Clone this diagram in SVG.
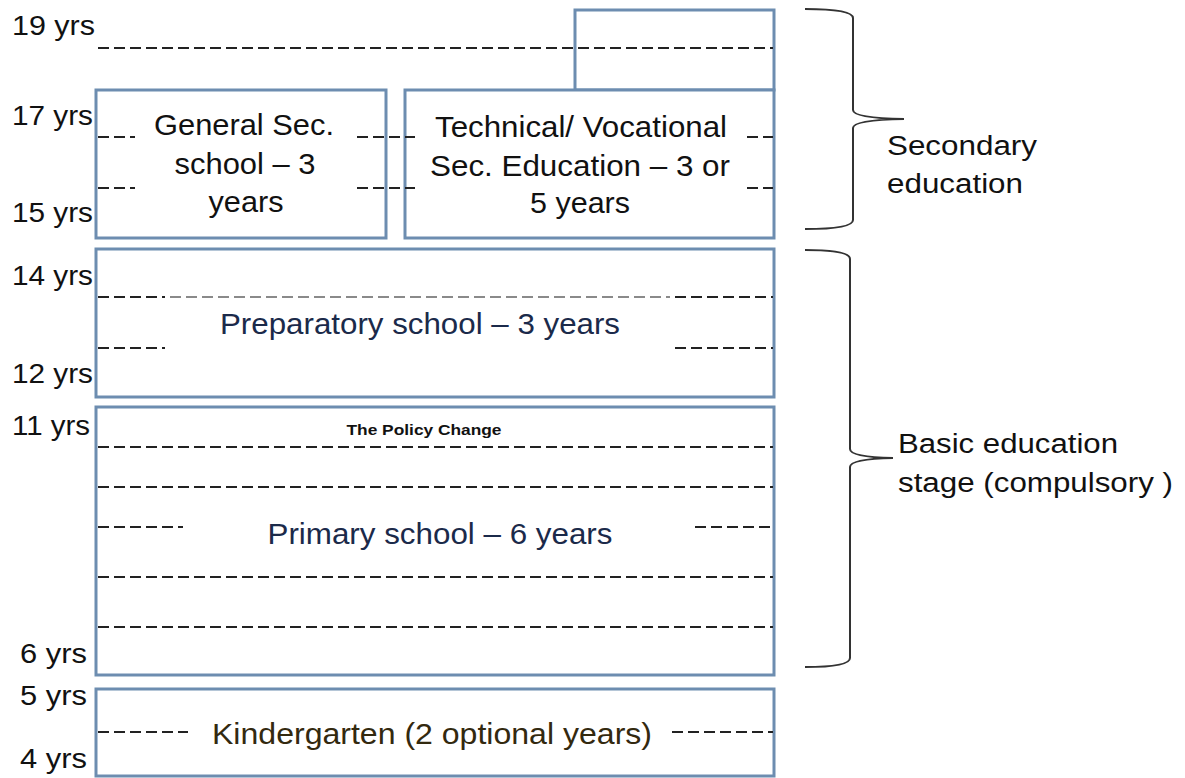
<svg xmlns="http://www.w3.org/2000/svg" width="1185" height="778" viewBox="0 0 1185 778">
  <style>
    .box { fill: #ffffff; stroke: #6d8db0; stroke-width: 3; }
    .dash { stroke: #222222; stroke-width: 2.2; stroke-dasharray: 11 5; fill: none; }
    .dash-light { stroke: #8a8a8a; stroke-width: 2; stroke-dasharray: 11 5; fill: none; }
    .brace { fill: none; stroke: #333333; stroke-width: 2; }
    .age { font-family: "Liberation Sans", Arial, sans-serif; font-size: 27px; fill: #111111; }
    .label { font-family: "Liberation Sans", Arial, sans-serif; font-size: 29px; fill: #111111; text-anchor: middle; }
    .navy { fill: #1b2a4a; }
    .olive { fill: #33290f; }
    .side { font-family: "Liberation Sans", Arial, sans-serif; font-size: 27px; fill: #111111; }
    .note { font-family: "Liberation Sans", Arial, sans-serif; font-size: 15px; font-weight: bold; fill: #111111; text-anchor: middle; }
  </style>

  <rect width="1185" height="778" fill="#ffffff"/>

  <!-- age axis -->
  <g id="ages">
    <text class="age" x="12" y="35" textLength="83" lengthAdjust="spacingAndGlyphs">19 yrs</text>
    <text class="age" x="12" y="125" textLength="81" lengthAdjust="spacingAndGlyphs">17 yrs</text>
    <text class="age" x="12" y="222" textLength="81" lengthAdjust="spacingAndGlyphs">15 yrs</text>
    <text class="age" x="12" y="285" textLength="81" lengthAdjust="spacingAndGlyphs">14 yrs</text>
    <text class="age" x="12" y="383" textLength="81" lengthAdjust="spacingAndGlyphs">12 yrs</text>
    <text class="age" x="12" y="435" textLength="78" lengthAdjust="spacingAndGlyphs">11 yrs</text>
    <text class="age" x="20" y="663" textLength="67" lengthAdjust="spacingAndGlyphs">6 yrs</text>
    <text class="age" x="20" y="705" textLength="67" lengthAdjust="spacingAndGlyphs">5 yrs</text>
    <text class="age" x="20" y="768" textLength="67" lengthAdjust="spacingAndGlyphs">4 yrs</text>
  </g>

  <!-- upper vocational years (17-19) -->
  <g id="upper-vocational">
    <rect class="box" x="575" y="10" width="199" height="80"/>
  </g>

  <g id="general-secondary">
    <rect class="box" x="96" y="90" width="290" height="148"/>
    <text class="label" x="244" y="135" textLength="180" lengthAdjust="spacingAndGlyphs">General Sec.</text>
    <text class="label" x="245" y="174" textLength="141" lengthAdjust="spacingAndGlyphs">school – 3</text>
    <text class="label" x="246" y="212" textLength="75" lengthAdjust="spacingAndGlyphs">years</text>
  </g>

  <g id="technical-secondary">
    <rect class="box" x="405" y="90" width="369" height="148"/>
    <text class="label" x="581" y="137" textLength="292" lengthAdjust="spacingAndGlyphs">Technical/ Vocational</text>
    <text class="label" x="580" y="176" textLength="300" lengthAdjust="spacingAndGlyphs">Sec. Education – 3 or</text>
    <text class="label" x="580" y="213" textLength="100" lengthAdjust="spacingAndGlyphs">5 years</text>
  </g>

  <g id="preparatory">
    <rect class="box" x="96" y="249" width="678" height="148"/>
    <text class="label navy" x="420" y="334" textLength="400" lengthAdjust="spacingAndGlyphs">Preparatory school – 3 years</text>
  </g>

  <g id="primary">
    <rect class="box" x="96" y="407" width="678" height="268"/>
    <text class="note" x="424" y="435" textLength="155" lengthAdjust="spacingAndGlyphs">The Policy Change</text>
    <text class="label navy" x="440" y="544" textLength="345" lengthAdjust="spacingAndGlyphs">Primary school – 6 years</text>
  </g>

  <g id="kindergarten">
    <rect class="box" x="96" y="689" width="678" height="87"/>
    <text class="label olive" x="432" y="744" textLength="440" lengthAdjust="spacingAndGlyphs">Kindergarten  (2 optional years)</text>
  </g>

  <!-- year divisions -->
  <g id="connectors">
    <line class="dash" x1="98" y1="48" x2="773" y2="48"/>

    <line class="dash" x1="98" y1="137" x2="135" y2="137"/>
    <line class="dash" x1="357" y1="137" x2="415" y2="137"/>
    <line class="dash" x1="747" y1="137" x2="773" y2="137"/>
    <line class="dash" x1="98" y1="188" x2="135" y2="188"/>
    <line class="dash" x1="357" y1="188" x2="415" y2="188"/>
    <line class="dash" x1="747" y1="188" x2="773" y2="188"/>

    <line class="dash" x1="98" y1="297" x2="165" y2="297"/>
    <line class="dash-light" x1="170" y1="297" x2="670" y2="297"/>
    <line class="dash" x1="675" y1="297" x2="773" y2="297"/>
    <line class="dash" x1="98" y1="348" x2="165" y2="348"/>
    <line class="dash" x1="675" y1="348" x2="773" y2="348"/>

    <line class="dash" x1="98" y1="447" x2="773" y2="447"/>
    <line class="dash" x1="98" y1="487" x2="773" y2="487"/>
    <line class="dash" x1="98" y1="527" x2="183" y2="527"/>
    <line class="dash" x1="695" y1="527" x2="773" y2="527"/>
    <line class="dash" x1="98" y1="577" x2="773" y2="577"/>
    <line class="dash" x1="98" y1="627" x2="773" y2="627"/>

    <line class="dash" x1="98" y1="732" x2="188" y2="732"/>
    <line class="dash" x1="672" y1="732" x2="773" y2="732"/>
  </g>

  <!-- stage braces -->
  <g id="secondary-stage">
    <path class="brace" d="M805,9 Q853,9 853,18 L853,110 Q853,118 904,119 Q853,120 853,128 L853,220 Q853,229 805,229"/>
    <text class="side" x="887" y="155" textLength="150" lengthAdjust="spacingAndGlyphs">Secondary</text>
    <text class="side" x="887" y="193" textLength="136" lengthAdjust="spacingAndGlyphs">education</text>
  </g>

  <g id="basic-stage">
    <path class="brace" d="M805,250 Q850,250 850,259 L850,449 Q850,457 893,458 Q850,459 850,467 L850,658 Q850,667 805,667"/>
    <text class="side" x="898" y="453" textLength="220" lengthAdjust="spacingAndGlyphs">Basic education</text>
    <text class="side" x="898" y="492" textLength="275" lengthAdjust="spacingAndGlyphs">stage (compulsory )</text>
  </g>
</svg>
